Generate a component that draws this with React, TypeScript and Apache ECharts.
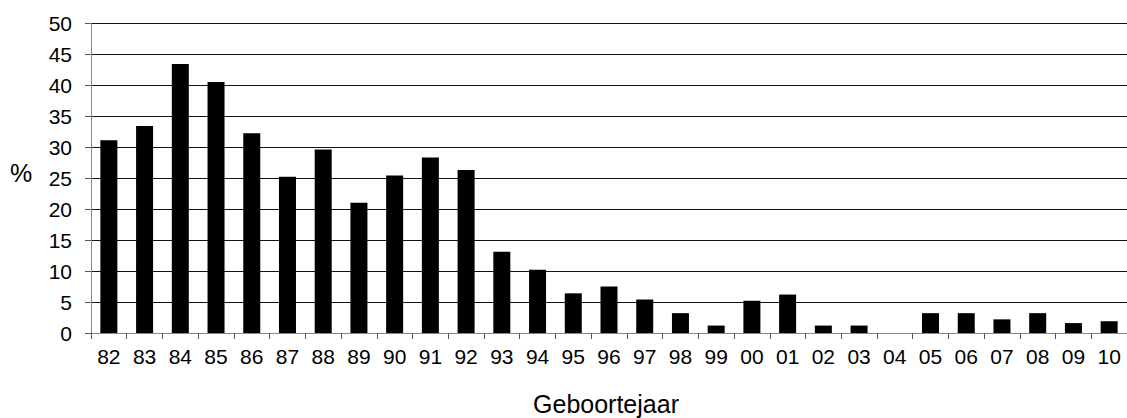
import React, { useEffect, useRef } from "react";
import * as echarts from "echarts";

const categories = ["82","83","84","85","86","87","88","89","90","91","92","93","94","95","96","97","98","99","00","01","02","03","04","05","06","07","08","09","10"];
const values = [31.1,33.4,43.4,40.5,32.2,25.2,29.6,21.0,25.4,28.3,26.3,13.1,10.2,6.4,7.5,5.4,3.2,1.2,5.2,6.2,1.2,1.2,0,3.2,3.2,2.2,3.2,1.6,1.9];
const yTicks = { min: 0, max: 50, interval: 5 };
const xTitle = "Geboortejaar";
const yTitle = "%";

export default function App() {
  const ref = useRef<HTMLDivElement>(null);
  useEffect(() => {
    document.body.style.margin = "0";
    const chart = echarts.init(ref.current!, null, { renderer: "svg" });
    const font = "'Liberation Sans', Arial, sans-serif";
    chart.setOption({
      animation: false,
      backgroundColor: "#fff",
      grid: { left: 91, right: 0, top: 23, bottom: 85, containLabel: false },
      xAxis: {
        type: "category",
        data: categories,
        axisLine: { lineStyle: { color: "#888", width: 1 } },
        axisTick: { show: true, length: 6, alignWithLabel: false, lineStyle: { color: "#555" } },
        axisLabel: { color: "#000", fontSize: 21, fontFamily: font, margin: 13, interval: 0 },
        splitLine: { show: false },
      },
      yAxis: {
        type: "value",
        min: yTicks.min,
        max: yTicks.max,
        interval: yTicks.interval,
        axisLine: { show: true, lineStyle: { color: "#888", width: 1 } },
        axisTick: { show: true, length: 6, lineStyle: { color: "#555" } },
        axisLabel: { color: "#000", fontSize: 21, fontFamily: font, margin: 19 },
        splitLine: { show: true, lineStyle: { color: "#111", width: 1 } },
      },
      graphic: [
        { type: "text", x: 606, y: 404, style: { text: xTitle, fontSize: 25, fontFamily: font, fill: "#000", textAlign: "center", textVerticalAlign: "middle" } },
        { type: "text", x: 21, y: 173, style: { text: yTitle, fontSize: 25, fontFamily: font, fill: "#000", textAlign: "center", textVerticalAlign: "middle" } },
      ],
      series: [
        {
          type: "bar",
          data: values,
          barWidth: 17,
          itemStyle: { color: "#000", borderWidth: 0 },
        },
      ],
    });
    return () => chart.dispose();
  }, []);
  return <div ref={ref} style={{ position: "absolute", left: 0, top: 0, width: 1127, height: 418 }} />;
}
